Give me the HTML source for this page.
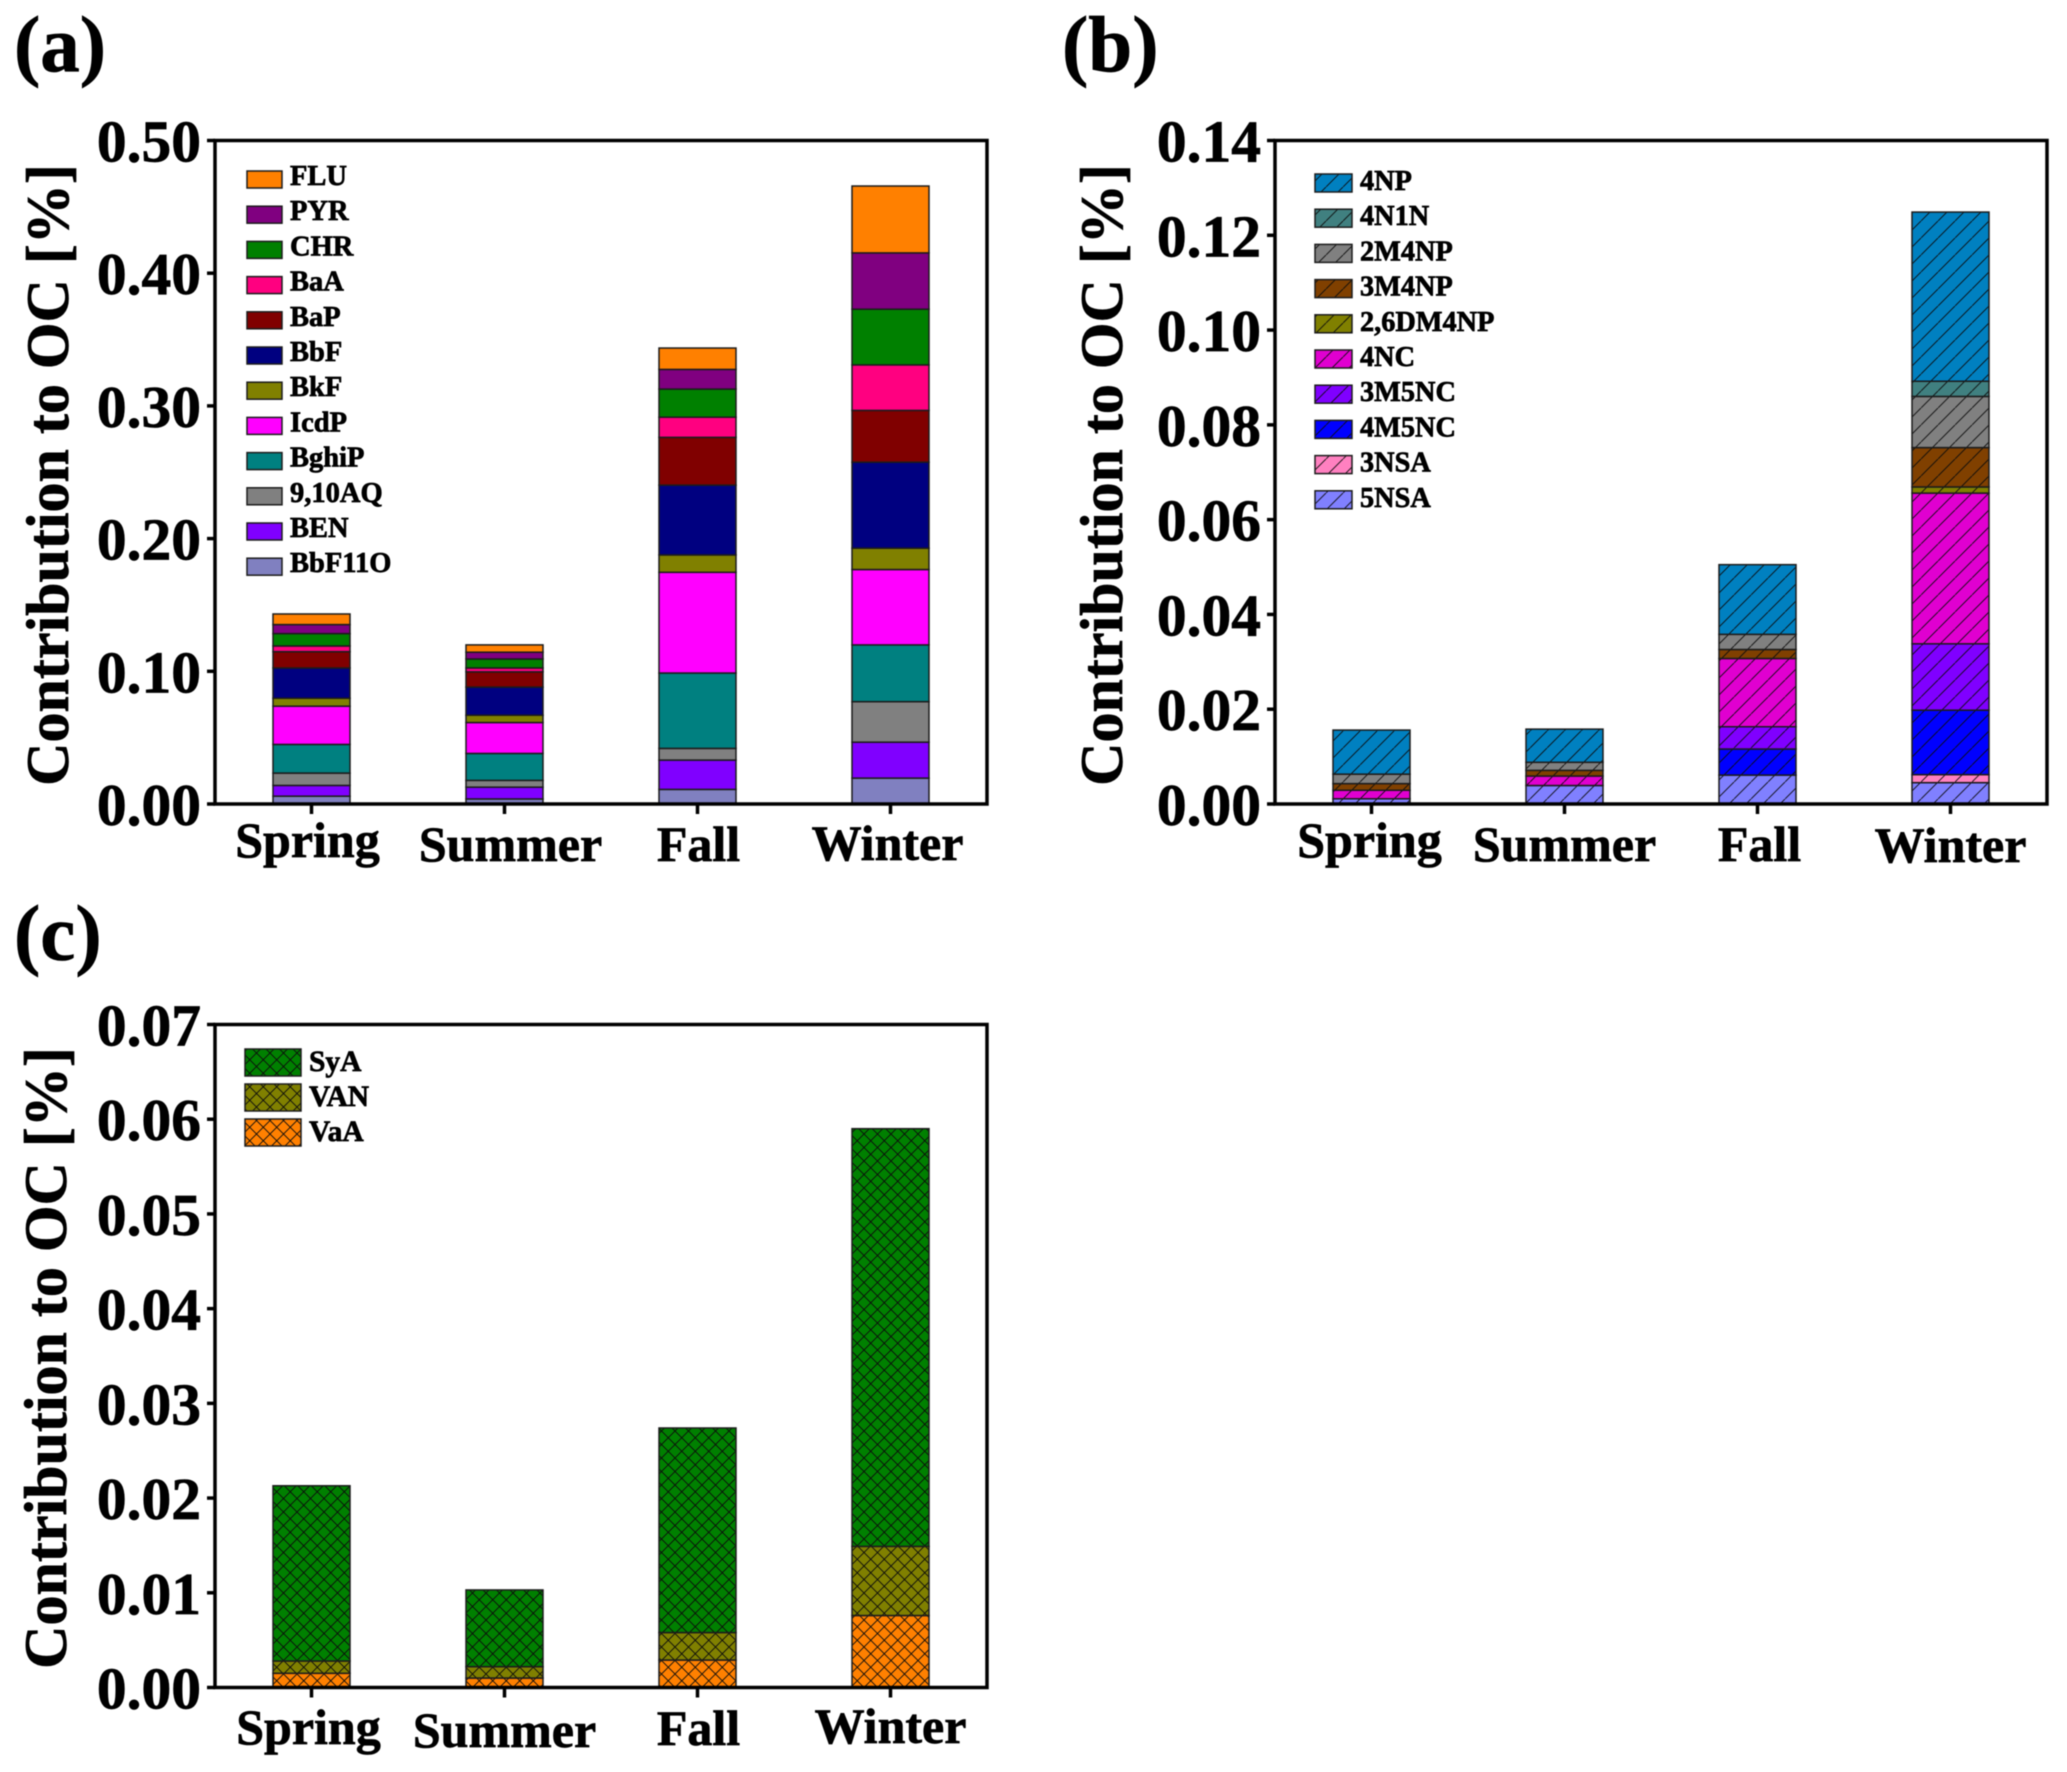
<!DOCTYPE html>
<html lang="en">
<head>
<meta charset="utf-8">
<title>Seasonal contribution to OC</title>
<style>
html,body{margin:0;padding:0;background:#fff;}
svg{display:block;filter:blur(0.5px);}
text{font-family:"Liberation Serif",serif;font-weight:bold;fill:#000;stroke:#000;stroke-width:0.7px;}
</style>
</head>
<body>
<svg id="figure" xmlns="http://www.w3.org/2000/svg" width="2067" height="1772" viewBox="0 0 2067 1772">
  <defs id="defs"></defs>
</svg>
<script>
const categories = ['Spring', 'Summer', 'Fall', 'Winter'];

/* Panel (a) */
const aTickValues = [0, 0.1, 0.2, 0.3, 0.4, 0.5];
const aTickLabels = ['0.00', '0.10', '0.20', '0.30', '0.40', '0.50'];
const aSeriesNames = ['BbF11O', 'BEN', '9,10AQ', 'BghiP', 'IcdP', 'BkF', 'BbF', 'BaP', 'BaA', 'CHR', 'PYR', 'FLU'];
const aColors = ['#8080c0', '#8000ff', '#808080', '#008080', '#ff00ff', '#808000', '#000080', '#800000', '#ff0080', '#008000', '#800080', '#ff8000'];
const aBbF11O = [0.0059, 0.0038, 0.0110, 0.0195];
const aBEN = [0.0081, 0.0089, 0.0221, 0.0271];
const aAQ = [0.0093, 0.0051, 0.0088, 0.0305];
const aBghiP = [0.0216, 0.0203, 0.0568, 0.0428];
const aIcdP = [0.0288, 0.0233, 0.0759, 0.0568];
const aBkF = [0.0060, 0.0055, 0.0131, 0.0161];
const aBbF = [0.0228, 0.0212, 0.0526, 0.0648];
const aBaP = [0.0123, 0.0115, 0.0360, 0.0390];
const aBaA = [0.0043, 0.0029, 0.0152, 0.0343];
const aCHR = [0.0093, 0.0068, 0.0212, 0.0420];
const aPYR = [0.0068, 0.0051, 0.0148, 0.0424];
const aFLU = [0.0080, 0.0055, 0.0161, 0.0504];

/* Panel (b) */
const bTickValues = [0, 0.02, 0.04, 0.06, 0.08, 0.10, 0.12, 0.14];
const bTickLabels = ['0.00', '0.02', '0.04', '0.06', '0.08', '0.10', '0.12', '0.14'];
const bSeriesNames = ['5NSA', '3NSA', '4M5NC', '3M5NC', '4NC', '2,6DM4NP', '3M4NP', '2M4NP', '4N1N', '4NP'];
const bColors = ['#8080ff', '#ff80c0', '#0000ff', '#8000ff', '#e000d0', '#808000', '#804000', '#808080', '#408080', '#0080c0'];
const b5NSA = [0.0011, 0.0039, 0.0061, 0.0045];
const b3NSA = [0, 0, 0, 0.0017];
const b4M5NC = [0, 0, 0.0055, 0.0136];
const b3M5NC = [0, 0, 0.0047, 0.0140];
const b4NC = [0.0018, 0.0020, 0.0144, 0.0318];
const b26DM4NP = [0, 0, 0, 0.0013];
const b3M4NP = [0.0014, 0.0012, 0.0019, 0.0083];
const b2M4NP = [0.0020, 0.0017, 0.0032, 0.0108];
const b4N1N = [0, 0, 0, 0.0032];
const b4NP = [0.0093, 0.0070, 0.0147, 0.0357];

/* Panel (c) */
const cTickValues = [0, 0.01, 0.02, 0.03, 0.04, 0.05, 0.06, 0.07];
const cTickLabels = ['0.00', '0.01', '0.02', '0.03', '0.04', '0.05', '0.06', '0.07'];
const cSeriesNames = ['VaA', 'VAN', 'SyA'];
const cColors = ['#ff8000', '#808000', '#008000'];
const cVaA = [0.0015, 0.0010, 0.0029, 0.0076];
const cVAN = [0.0013, 0.0012, 0.0029, 0.0073];
const cSyA = [0.0185, 0.0081, 0.0216, 0.0441];

const SVG_NS = 'http://www.w3.org/2000/svg';
const figure = document.getElementById('figure');
const defs = document.getElementById('defs');

function make(tag, attrs, parent) {
  const node = document.createElementNS(SVG_NS, tag);
  for (const key in attrs) node.setAttribute(key, attrs[key]);
  if (parent) parent.appendChild(node);
  return node;
}
function kebab(s) {
  return s.toLowerCase().replace(/[^a-z0-9]+/g, '-').replace(/^-|-$/g, '');
}
function makeFill(id, color, hatch) {
  if (hatch === 'none') return color;
  const size = hatch === 'cross' ? 13.5 : 17;
  const p = make('pattern', {id: id, patternUnits: 'userSpaceOnUse', width: size, height: size}, defs);
  make('rect', {width: size, height: size, fill: color}, p);
  const d = hatch === 'cross'
    ? 'M0,0L' + size + ',' + size + 'M' + size + ',0L0,' + size
    : 'M-1,' + (size + 1) + 'L' + (size + 1) + ',-1';
  make('path', {d: d, stroke: '#0c0c0c', 'stroke-width': 0.9, fill: 'none'}, p);
  return 'url(#' + id + ')';
}

function drawPanel(cfg) {
  const g = make('g', {}, figure);
  
  

  const yScale = v => cfg.bottom - v / cfg.max * (cfg.bottom - cfg.top);
  const band = (cfg.right - cfg.left) / categories.length;
  const xScale = i => cfg.left + (i + 0.5) * band;
  const barWidth = 77;

  const letter = make('text', {x: cfg.letterX, y: cfg.letterY, 'font-size': 79}, g);
  letter.textContent = '(' + cfg.id + ')';
  
  

  const fills = cfg.names.map((n, s) => makeFill('fill-' + cfg.id + '-' + s, cfg.colors[s], cfg.hatch));

  /* stacked bars */
  categories.forEach((cat, i) => {
    let base = 0;
    cfg.series.forEach((values, s) => {
      const v = values[i];
      if (v > 0) {
        const y1 = yScale(base + v);
        const y0 = yScale(base);
        const bar = make('rect', {
          x: xScale(i) - barWidth / 2, y: y1, width: barWidth, height: y0 - y1,
          fill: fills[s], stroke: '#1c1c1c', 'stroke-width': 1.5
        }, g);
        
        
      }
      base += v;
    });
  });

  /* frame */
  const frame = make('rect', {
    x: cfg.left, y: cfg.top, width: cfg.right - cfg.left, height: cfg.bottom - cfg.top,
    fill: 'none', stroke: '#000', 'stroke-width': 3.5
  }, g);
  
  

  /* y axis */
  cfg.ticks.forEach((v, i) => {
    const y = yScale(v);
    const tick = make('line', {x1: cfg.left - 8, x2: cfg.left, y1: y, y2: y, stroke: '#000', 'stroke-width': 3.5}, g);
    
    
    const label = make('text', {x: cfg.left - 14, y: y + 21, 'font-size': 59.5, 'text-anchor': 'end'}, g);
    label.textContent = cfg.tickLabels[i];
    
    
  });

  /* x axis */
  categories.forEach((cat, i) => {
    const x = xScale(i);
    const tick = make('line', {x1: x, x2: x, y1: cfg.bottom, y2: cfg.bottom + 10, stroke: '#000', 'stroke-width': 3.5}, g);
    
    
    const label = make('text', {
      x: x + cfg.catDx[i], y: cfg.catBase + cfg.catDy[i], 'font-size': 50, 'text-anchor': 'middle'
    }, g);
    label.textContent = cat;
    
    
  });

  /* y title */
  const title = make('text', {
    transform: 'translate(' + cfg.titleX + ',' + cfg.titleY + ') rotate(-90)',
    'font-size': 60, 'text-anchor': 'middle'
  }, g);
  title.textContent = 'Contribution to OC [%]';
  
  

  /* legend, top row is last series */
  const L = cfg.legend;
  const count = cfg.names.length;
  for (let r = 0; r < count; r++) {
    const s = count - 1 - r;
    const entry = make('g', {}, g);
    
    
    const swatch = make('rect', {
      x: L.x, y: L.y + r * L.step, width: L.w, height: L.h,
      fill: fills[s], stroke: '#1c1c1c', 'stroke-width': 1.5
    }, entry);
    
    
    const label = make('text', {
      x: L.textX, y: L.baseline + r * L.step, 'font-size': L.size
    }, entry);
    label.textContent = cfg.names[s];
    
    
  }
}

drawPanel({
  id: 'a', left: 215, right: 987, top: 140.5, bottom: 804, max: 0.5,
  ticks: aTickValues, tickLabels: aTickLabels, names: aSeriesNames, colors: aColors, hatch: 'none',
  series: [aBbF11O, aBEN, aAQ, aBghiP, aIcdP, aBkF, aBbF, aBaP, aBaA, aCHR, aPYR, aFLU],
  letterX: 14, letterY: 71,
  catBase: 860, catDx: [-4, 6, 1, -3], catDy: [-3, 1, 1, 0],
  titleX: 68, titleY: 475,
  legend: {x: 247, y: 171, w: 35, h: 17, step: 35.2, textX: 290, baseline: 185, size: 28.5}
});
drawPanel({
  id: 'b', left: 1275, right: 2047, top: 140.5, bottom: 804, max: 0.14,
  ticks: bTickValues, tickLabels: bTickLabels, names: bSeriesNames, colors: bColors, hatch: 'single',
  series: [b5NSA, b3NSA, b4M5NC, b3M5NC, b4NC, b26DM4NP, b3M4NP, b2M4NP, b4N1N, b4NP],
  letterX: 1062, letterY: 71,
  catBase: 861, catDx: [-2, 0, 2, 0], catDy: [-4, 0, 0, 1],
  titleX: 1122, titleY: 475,
  legend: {x: 1315, y: 174, w: 37, h: 18, step: 35.2, textX: 1360, baseline: 190, size: 28.3}
});
drawPanel({
  id: 'c', left: 215, right: 987, top: 1024.5, bottom: 1687.5, max: 0.07,
  ticks: cTickValues, tickLabels: cTickLabels, names: cSeriesNames, colors: cColors, hatch: 'cross',
  series: [cVaA, cVAN, cSyA],
  letterX: 14, letterY: 960,
  catBase: 1745, catDx: [-3, 0, 1, 0], catDy: [-1, 2, 0, -2],
  titleX: 66, titleY: 1358,
  legend: {x: 245, y: 1049, w: 56, h: 27, step: 35, textX: 309, baseline: 1071, size: 29.5}
});
</script>
</body>
</html>
